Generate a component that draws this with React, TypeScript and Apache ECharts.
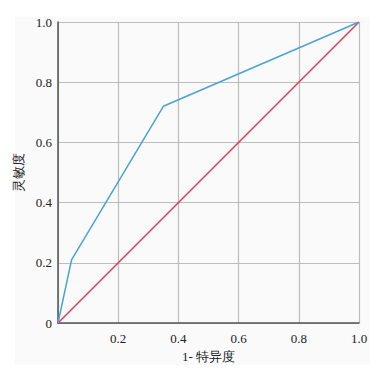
import React, { useEffect, useRef } from "react";
import * as echarts from "echarts";

const rocCurve: [number, number][] = [
  [0, 0],
  [0.045, 0.21],
  [0.35, 0.72],
  [1, 1],
];
const referenceLine: [number, number][] = [
  [0, 0],
  [1, 1],
];
const xAxisTitle = "1- 特异度";
const yAxisTitle = "灵敏度";

const serif = "Liberation Serif";

export default function App() {
  const ref = useRef<HTMLDivElement>(null);
  useEffect(() => {
    if (!ref.current) return;
    const chart = echarts.init(ref.current, undefined, { renderer: "svg" });
    const fmt = (v: number) => (v === 0 ? "0" : v.toFixed(1));
    chart.setOption({
      animation: false,
      backgroundColor: "#ffffff",
      textStyle: { fontFamily: serif },
      graphic: [
        {
          type: "rect",
          z: -10,
          silent: true,
          shape: { x: 15, y: 17, width: 355, height: 348 },
          style: { fill: "#fafafa" },
        },
      ],
      grid: { left: 58, top: 22, width: 301, height: 301, show: false },
      xAxis: {
        type: "value",
        min: 0,
        max: 1,
        interval: 0.2,
        name: xAxisTitle,
        nameLocation: "middle",
        nameGap: 26,
        nameTextStyle: { fontFamily: serif, fontSize: 13, color: "#222" },
        axisLine: { show: true, lineStyle: { color: "#555", width: 1.5 } },
        axisTick: { show: false },
        axisLabel: {
          margin: 9,
          fontFamily: serif,
          fontSize: 13,
          color: "#222",
          formatter: (v: number) => (v === 0 ? "" : fmt(v)),
        },
        splitLine: { show: true, lineStyle: { color: "#bdbdbd", width: 1.2 } },
      },
      yAxis: {
        type: "value",
        min: 0,
        max: 1,
        interval: 0.2,
        name: yAxisTitle,
        nameLocation: "middle",
        nameGap: 30,
        nameRotate: 90,
        nameTextStyle: { fontFamily: serif, fontSize: 13, color: "#222" },
        axisLine: { show: true, lineStyle: { color: "#555", width: 1.5 } },
        axisTick: { show: false },
        axisLabel: {
          margin: 6,
          fontFamily: serif,
          fontSize: 13,
          color: "#222",
          formatter: fmt,
        },
        splitLine: { show: true, lineStyle: { color: "#bdbdbd", width: 1.2 } },
      },
      series: [
        {
          type: "line",
          data: referenceLine,
          symbol: "none",
          lineStyle: { color: "#e8344e", width: 1.5 },
          z: 3,
        },
        {
          type: "line",
          data: rocCurve,
          symbol: "none",
          lineStyle: { color: "#4aa3d6", width: 1.5 },
          z: 4,
        },
      ],
    });
    return () => chart.dispose();
  }, []);
  return (
    <div
      ref={ref}
      style={{ position: "fixed", left: 0, top: 0, width: 392, height: 377 }}
    />
  );
}
